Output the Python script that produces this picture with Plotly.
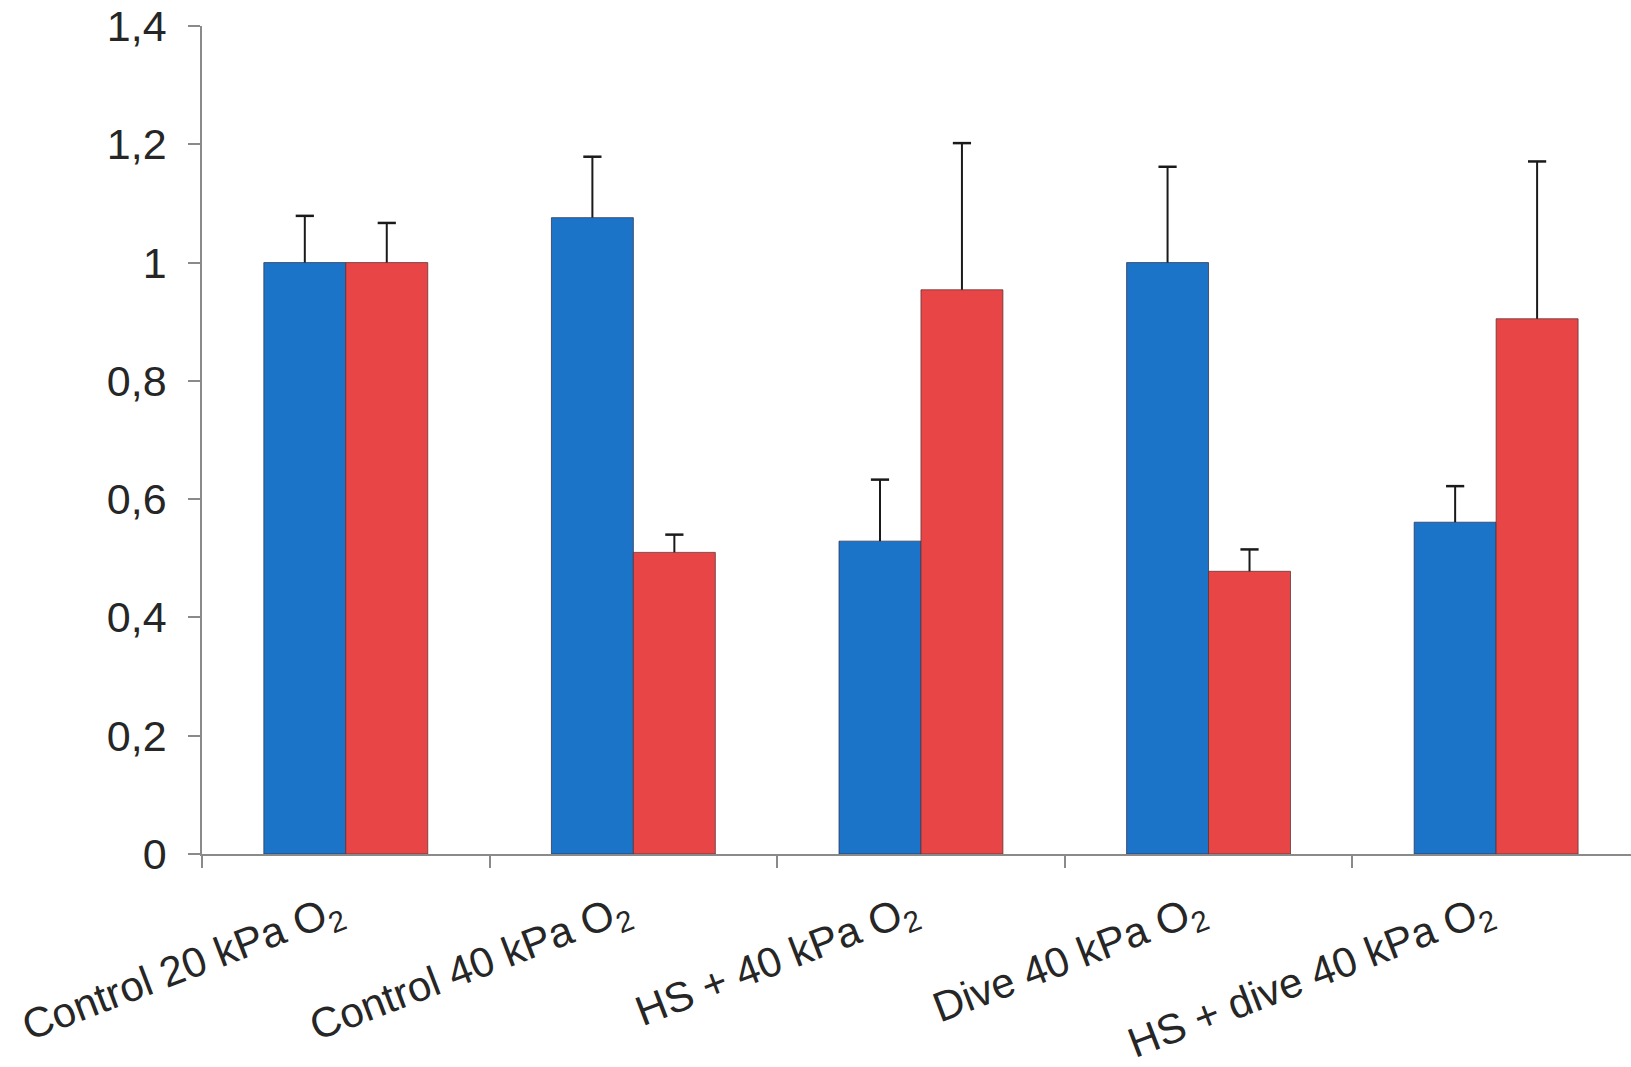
import plotly.graph_objects as go

categories = ["Control 20 kPa O<sub>2</sub>", "Control 40 kPa O<sub>2</sub>",
              "HS + 40 kPa O<sub>2</sub>", "Dive 40 kPa O<sub>2</sub>",
              "HS + dive 40 kPa O<sub>2</sub>"]
blue_values = [1.0, 1.076, 0.529, 1.0, 0.561]
blue_err = [0.079, 0.103, 0.104, 0.162, 0.061]
red_values = [1.0, 0.51, 0.954, 0.478, 0.905]
red_err = [0.067, 0.03, 0.248, 0.037, 0.266]
y_tickvals = [0, 0.2, 0.4, 0.6, 0.8, 1.0, 1.2, 1.4]
y_ticktext = ["0", "0,2", "0,4", "0,6", "0,8", "1", "1,2", "1,4"]

W, H = 1631, 1067
GAP = 0.43
fig = go.Figure()
err_style = dict(type="data", symmetric=False, color="#1a1a1a", thickness=2, width=0)
series = [
    ("blue", blue_values, blue_err, "#1b74c7", "rgba(50,50,80,0.75)"),
    ("red", red_values, red_err, "#e84646", "rgba(90,50,50,0.75)"),
]
for name, vals, errs, col, edge in series:
    fig.add_trace(go.Bar(
        x=categories, y=vals, name=name, offsetgroup=name,
        marker=dict(color=col, line=dict(color=edge, width=1)),
        error_y=dict(array=errs, arrayminus=[0] * len(errs), **err_style),
    ))
for name, vals, errs, col, edge in series:
    tops = [v + e for v, e in zip(vals, errs)]
    fig.add_trace(go.Scatter(
        x=categories, y=tops, name=name + " cap", offsetgroup=name,
        mode="markers", hoverinfo="skip", cliponaxis=False,
        marker=dict(symbol="line-ew-open", size=13, color="#1a1a1a",
                    line=dict(color="#1a1a1a", width=2.5)),
    ))

fig.update_layout(
    width=W, height=H,
    paper_bgcolor="white", plot_bgcolor="white",
    showlegend=False,
    barmode="group", bargap=GAP, bargroupgap=0,
    scattermode="group", scattergap=GAP,
    margin=dict(l=202, r=0, t=26, b=213),
    font=dict(family="Liberation Sans, Arial, sans-serif", color="#262626", size=42),
)
fig.update_yaxes(
    range=[0, 1.40002], tickvals=y_tickvals, ticktext=y_ticktext, automargin=False,
    ticklabeloverflow="allow",
    showgrid=False, zeroline=False,
    showline=True, linecolor="#8a8a8a", linewidth=1.5,
    ticks="outside", ticklen=12, tickcolor="#8a8a8a", tickwidth=1.5,
    ticklabelstandoff=13,
    tickfont=dict(size=43, color="#262626"),
)
fig.update_xaxes(
    range=[-0.5, 4.469], showgrid=False, zeroline=False, automargin=False,
    ticklabeloverflow="allow",
    showline=True, linecolor="#8a8a8a", linewidth=1.5,
    tickson="boundaries", ticks="outside", ticklen=12, tickcolor="#8a8a8a", tickwidth=1.5,
    tickangle=-21, ticklabelstandoff=15, ticklabelshift=-8,
    tickfont=dict(size=42, color="#262626"),
)

fig.write_html(
    "out.html",
    config={"displayModeBar": False},
    post_script="document.body.style.margin='0';document.body.style.overflow='hidden';",
)
